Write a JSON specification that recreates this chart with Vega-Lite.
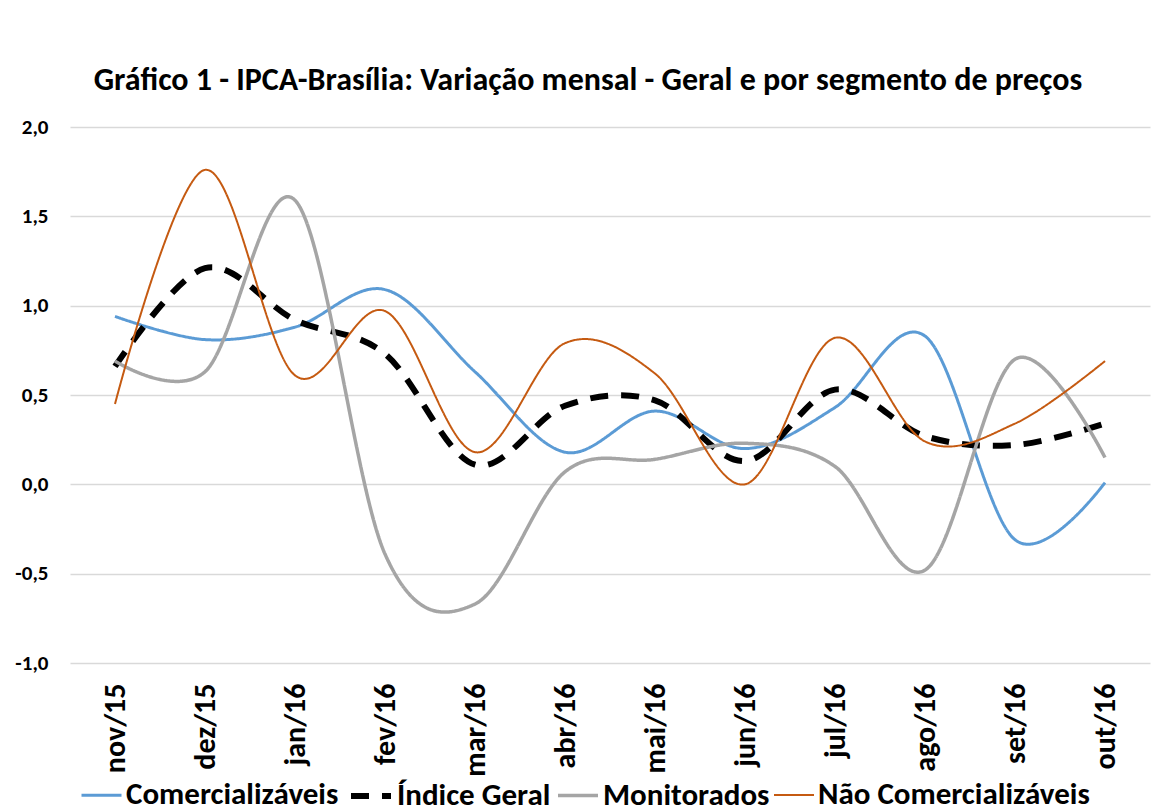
{
  "$schema": "https://vega.github.io/schema/vega-lite/v6.json",
  "width": 1080,
  "height": 536,
  "autosize": {"type": "none"},
  "padding": {"left": 70, "top": 127, "right": 3, "bottom": 149},
  "background": "white",
  "config": {
    "locale": {"number": {"decimal": ",", "thousands": ".", "grouping": [3], "currency": ["R$", ""], "minus": "-"}},
    "font": "Carlito, Liberation Sans Narrow, Open Sans",
    "view": {"stroke": null}
  },
  "title": {
    "text": "Gráfico 1 - IPCA-Brasília: Variação mensal - Geral e por segmento de preços",
    "fontSize": 32,
    "fontWeight": "bold",
    "color": "#000000",
    "anchor": "middle",
    "frame": "group",
    "baseline": "alphabetic",
    "dx": -22,
    "dy": 36,
    "offset": 30
  },
  "data": {
    "values": [
      {"mes": "nov/15", "serie": "Comercializáveis", "valor": 0.94},
      {"mes": "dez/15", "serie": "Comercializáveis", "valor": 0.81},
      {"mes": "jan/16", "serie": "Comercializáveis", "valor": 0.88},
      {"mes": "fev/16", "serie": "Comercializáveis", "valor": 1.09},
      {"mes": "mar/16", "serie": "Comercializáveis", "valor": 0.63},
      {"mes": "abr/16", "serie": "Comercializáveis", "valor": 0.18},
      {"mes": "mai/16", "serie": "Comercializáveis", "valor": 0.41},
      {"mes": "jun/16", "serie": "Comercializáveis", "valor": 0.20},
      {"mes": "jul/16", "serie": "Comercializáveis", "valor": 0.43},
      {"mes": "ago/16", "serie": "Comercializáveis", "valor": 0.83},
      {"mes": "set/16", "serie": "Comercializáveis", "valor": -0.31},
      {"mes": "out/16", "serie": "Comercializáveis", "valor": 0.01},
      {"mes": "nov/15", "serie": "Índice Geral", "valor": 0.66},
      {"mes": "dez/15", "serie": "Índice Geral", "valor": 1.21},
      {"mes": "jan/16", "serie": "Índice Geral", "valor": 0.92},
      {"mes": "fev/16", "serie": "Índice Geral", "valor": 0.73},
      {"mes": "mar/16", "serie": "Índice Geral", "valor": 0.11},
      {"mes": "abr/16", "serie": "Índice Geral", "valor": 0.44},
      {"mes": "mai/16", "serie": "Índice Geral", "valor": 0.47},
      {"mes": "jun/16", "serie": "Índice Geral", "valor": 0.13},
      {"mes": "jul/16", "serie": "Índice Geral", "valor": 0.53},
      {"mes": "ago/16", "serie": "Índice Geral", "valor": 0.27},
      {"mes": "set/16", "serie": "Índice Geral", "valor": 0.22},
      {"mes": "out/16", "serie": "Índice Geral", "valor": 0.34},
      {"mes": "nov/15", "serie": "Monitorados", "valor": 0.69},
      {"mes": "dez/15", "serie": "Monitorados", "valor": 0.63},
      {"mes": "jan/16", "serie": "Monitorados", "valor": 1.59},
      {"mes": "fev/16", "serie": "Monitorados", "valor": -0.39},
      {"mes": "mar/16", "serie": "Monitorados", "valor": -0.67},
      {"mes": "abr/16", "serie": "Monitorados", "valor": 0.07},
      {"mes": "mai/16", "serie": "Monitorados", "valor": 0.14},
      {"mes": "jun/16", "serie": "Monitorados", "valor": 0.23},
      {"mes": "jul/16", "serie": "Monitorados", "valor": 0.10},
      {"mes": "ago/16", "serie": "Monitorados", "valor": -0.48},
      {"mes": "set/16", "serie": "Monitorados", "valor": 0.70},
      {"mes": "out/16", "serie": "Monitorados", "valor": 0.15},
      {"mes": "nov/15", "serie": "Não Comercializáveis", "valor": 0.45},
      {"mes": "dez/15", "serie": "Não Comercializáveis", "valor": 1.76},
      {"mes": "jan/16", "serie": "Não Comercializáveis", "valor": 0.61},
      {"mes": "fev/16", "serie": "Não Comercializáveis", "valor": 0.97},
      {"mes": "mar/16", "serie": "Não Comercializáveis", "valor": 0.18},
      {"mes": "abr/16", "serie": "Não Comercializáveis", "valor": 0.79},
      {"mes": "mai/16", "serie": "Não Comercializáveis", "valor": 0.62},
      {"mes": "jun/16", "serie": "Não Comercializáveis", "valor": 0.00},
      {"mes": "jul/16", "serie": "Não Comercializáveis", "valor": 0.82},
      {"mes": "ago/16", "serie": "Não Comercializáveis", "valor": 0.24},
      {"mes": "set/16", "serie": "Não Comercializáveis", "valor": 0.34},
      {"mes": "out/16", "serie": "Não Comercializáveis", "valor": 0.69}
    ]
  },
  "mark": {"type": "line", "interpolate": "cardinal", "tension": 0, "strokeCap": "butt"},
  "encoding": {
    "x": {
      "field": "mes",
      "type": "ordinal",
      "sort": null,
      "scale": {"type": "point", "padding": 0.5},
      "axis": {
        "title": null,
        "labelAngle": -90,
        "labelFontSize": 30,
        "labelFontWeight": "bold",
        "labelColor": "#000000",
        "labelPadding": 20,
        "ticks": false,
        "domain": false,
        "grid": false
      }
    },
    "y": {
      "field": "valor",
      "type": "quantitative",
      "scale": {"domain": [-1, 2], "nice": false, "zero": false},
      "axis": {
        "title": null,
        "values": [-1, -0.5, 0, 0.5, 1, 1.5, 2],
        "format": ".1f",
        "labelFontSize": 21,
        "labelFontWeight": "bold",
        "labelColor": "#000000",
        "labelPadding": 22,
        "ticks": false,
        "domain": false,
        "grid": true,
        "gridColor": "#d9d9d9",
        "gridWidth": 1.3
      }
    },
    "color": {
      "field": "serie",
      "type": "nominal",
      "scale": {
        "domain": ["Comercializáveis", "Índice Geral", "Monitorados", "Não Comercializáveis"],
        "range": ["#5B9BD5", "#000000", "#A5A5A5", "#C55A11"]
      },
      "legend": {
        "title": null,
        "orient": "none",
        "legendX": 10,
        "legendY": 646,
        "direction": "horizontal",
        "symbolType": "stroke",
        "symbolSize": 1600,
        "labelFontSize": 31,
        "labelFontWeight": "bold",
        "labelColor": "#000000",
        "labelOffset": 3,
        "columnPadding": 0,
        "labelLimit": 400
      }
    },
    "strokeDash": {
      "field": "serie",
      "type": "nominal",
      "scale": {
        "domain": ["Comercializáveis", "Índice Geral", "Monitorados", "Não Comercializáveis"],
        "range": [[1, 0], [18, 13], [1, 0], [1, 0]]
      },
      "legend": null
    },
    "strokeWidth": {
      "field": "serie",
      "type": "nominal",
      "scale": {
        "type": "ordinal",
        "domain": ["Comercializáveis", "Índice Geral", "Monitorados", "Não Comercializáveis"],
        "range": [3, 6, 3.5, 2]
      },
      "legend": null
    }
  }
}
